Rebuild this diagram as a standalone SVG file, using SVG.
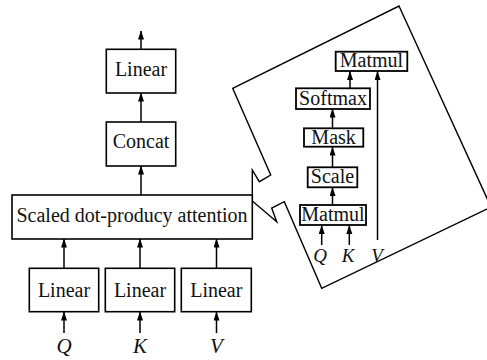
<svg xmlns="http://www.w3.org/2000/svg" width="487" height="360" viewBox="0 0 487 360">
  <style>
    .box { fill: #ffffff; stroke: #000000; stroke-width: 1.6; }
    .ibox { fill: #ffffff; stroke: #000000; stroke-width: 1.8; }
    .lbl { font-family: "Liberation Serif", "Times New Roman", serif; font-size: 20px; fill: #111111; text-anchor: middle; }
    .var { font-family: "Liberation Serif", "Times New Roman", serif; font-size: 21px; font-style: italic; fill: #111111; text-anchor: middle; }
    .ivar { font-family: "Liberation Serif", "Times New Roman", serif; font-size: 19px; font-style: italic; fill: #111111; text-anchor: middle; }
    .edge { fill: none; stroke: #000000; stroke-width: 1.5; marker-end: url(#arrow); }
    .plain { fill: none; stroke: #000000; stroke-width: 1.5; }
    .callout { fill: none; stroke: #000000; stroke-width: 1.4; stroke-linejoin: miter; }
  </style>
  <defs>
    <marker id="arrow" markerUnits="userSpaceOnUse" markerWidth="10" markerHeight="8" refX="8.5" refY="3" orient="auto">
      <path d="M0,0 L9,3 L0,6 z" fill="#000000"/>
    </marker>
  </defs>

  <rect width="487" height="360" fill="#ffffff"/>

  <!-- callout frame around the attention detail -->
  <path class="callout" d="M399,6 L491,207 L321.7,288.3 L284.3,201.7 L271.7,208 L276.7,221.7 L252.3,201 L252.3,170 L259.3,181.7 L270.7,175 L232.7,88.3 Z"/>

  <!-- connectors -->
  <g id="connectors">
    <line class="edge" x1="141" y1="49" x2="141" y2="31"/>
    <line class="edge" x1="141" y1="122" x2="141" y2="93"/>
    <line class="edge" x1="141" y1="195" x2="141" y2="166"/>
    <line class="edge" x1="64" y1="268" x2="64" y2="239"/>
    <line class="edge" x1="140" y1="268" x2="140" y2="239"/>
    <line class="edge" x1="216.5" y1="268" x2="216.5" y2="239"/>
    <line class="edge" x1="64" y1="333" x2="64" y2="312"/>
    <line class="edge" x1="140" y1="333" x2="140" y2="312"/>
    <line class="edge" x1="216.5" y1="333" x2="216.5" y2="312"/>
    <!-- inner attention flow -->
    <line class="edge" x1="332.5" y1="205" x2="332.5" y2="187.5"/>
    <line class="edge" x1="332.5" y1="167" x2="332.5" y2="147"/>
    <line class="edge" x1="332.5" y1="128" x2="332.5" y2="109"/>
    <line class="edge" x1="350" y1="88" x2="350" y2="71.5"/>
    <line class="edge" x1="377.5" y1="240" x2="377.5" y2="71.5"/>
    <line class="edge" x1="321.7" y1="245" x2="321.7" y2="225.5"/>
    <line class="edge" x1="349.3" y1="245" x2="349.3" y2="225.5"/>
  </g>

  <!-- main pipeline nodes -->
  <g id="linear-out">
    <rect class="box" x="106.3" y="49.3" width="69.4" height="43.7"/>
    <text class="lbl" x="141" y="76">Linear</text>
  </g>
  <g id="concat">
    <rect class="box" x="106.3" y="122" width="69.4" height="44"/>
    <text class="lbl" x="141" y="148">Concat</text>
  </g>
  <g id="attention">
    <rect class="box" x="12" y="195" width="240.3" height="44"/>
    <text class="lbl" x="132" y="222">Scaled dot-producy attention</text>
  </g>
  <g id="linear-q">
    <rect class="box" x="29.3" y="268.3" width="69.4" height="43.4"/>
    <text class="lbl" x="64" y="297">Linear</text>
  </g>
  <g id="linear-k">
    <rect class="box" x="105.3" y="268.3" width="69.4" height="43.4"/>
    <text class="lbl" x="140" y="297">Linear</text>
  </g>
  <g id="linear-v">
    <rect class="box" x="181.3" y="268.3" width="70" height="43.4"/>
    <text class="lbl" x="216.3" y="297">Linear</text>
  </g>
  <g id="inputs">
    <text class="var" x="64" y="353">Q</text>
    <text class="var" x="140" y="353">K</text>
    <text class="var" x="216.5" y="353">V</text>
  </g>

  <!-- attention detail nodes -->
  <g id="matmul-out">
    <rect class="ibox" x="335.7" y="51.7" width="71.6" height="19.3"/>
    <text class="lbl" x="371.5" y="66.5">Matmul</text>
  </g>
  <g id="softmax">
    <rect class="ibox" x="296" y="88.3" width="74" height="20.7"/>
    <text class="lbl" x="333" y="105">Softmax</text>
  </g>
  <g id="mask">
    <rect class="ibox" x="304" y="128.3" width="59.3" height="18.4"/>
    <text class="lbl" x="333.6" y="144">Mask</text>
  </g>
  <g id="scale">
    <rect class="ibox" x="307.7" y="167.3" width="49.6" height="20"/>
    <text class="lbl" x="332.5" y="183">Scale</text>
  </g>
  <g id="matmul-in">
    <rect class="ibox" x="300" y="205" width="66" height="20"/>
    <text class="lbl" x="333" y="221">Matmul</text>
  </g>
  <g id="inner-inputs">
    <text class="ivar" x="320" y="262">Q</text>
    <text class="ivar" x="348" y="262">K</text>
    <text class="ivar" x="377" y="262">V</text>
  </g>
</svg>
